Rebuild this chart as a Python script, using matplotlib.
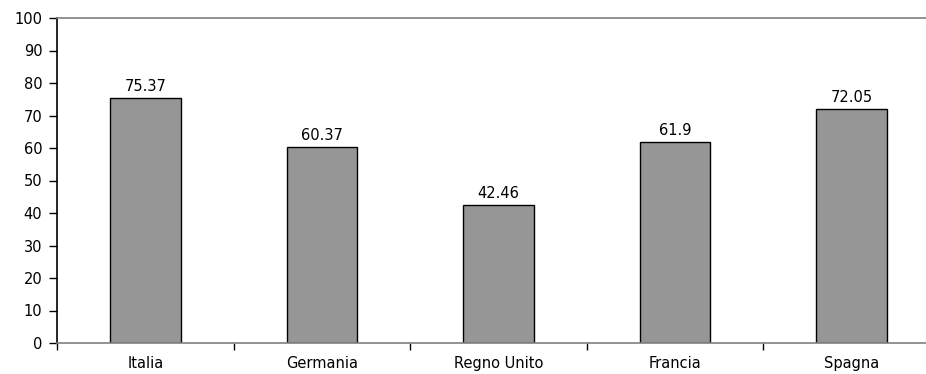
import numpy as np
import matplotlib.pyplot as plt

plt.rcParams['font.family'] = ['DejaVu Sans']

paesi = ['Italia', 'Germania', 'Regno Unito', 'Francia', 'Spagna']
valori = [75.37, 60.37, 42.46, 61.9, 72.05]
etichette = ['75.37', '60.37', '42.46', '61.9', '72.05']

W, H = 926, 374
fig = plt.figure(figsize=(W / 100, H / 100), dpi=100)
# the category axis runs a little past the right edge of the image
x0, x1, y0, y1 = 57, 940, 343, 18
ax = fig.add_axes([x0 / W, (H - y0) / H, (x1 - x0) / W, (y0 - y1) / H])

x = np.arange(len(paesi))
bars = ax.bar(x, valori, width=0.4, color='#969696', edgecolor='black', linewidth=1, zorder=2)
for b, lab in zip(bars, etichette):
    ax.text(b.get_x() + b.get_width() / 2, b.get_height() + 2.2, lab,
            ha='center', va='baseline', fontsize=10.5)

ax.set_xlim(-0.5, len(paesi) - 0.5)
ax.set_ylim(0, 100)
ax.set_yticks(range(0, 101, 10))
ax.tick_params(axis='y', direction='out', length=5.5, width=1, labelsize=10.5, pad=5)

# category labels at the centres, tick marks at the boundaries
ax.set_xticks(x)
ax.set_xticklabels(paesi, fontsize=10.5)
ax.set_xticks(np.arange(-0.5, len(paesi)), minor=True)
ax.tick_params(axis='x', which='major', length=0, pad=9.5)
ax.tick_params(axis='x', which='minor', direction='out', length=5, width=1, color='black')

ax.spines['left'].set_color('black')
ax.spines['bottom'].set_color('#808080')
ax.spines['top'].set_color('#808080')
ax.spines['right'].set_visible(False)
for s in ax.spines.values():
    s.set_linewidth(1.2)

fig.savefig('out.png', dpi=100)
